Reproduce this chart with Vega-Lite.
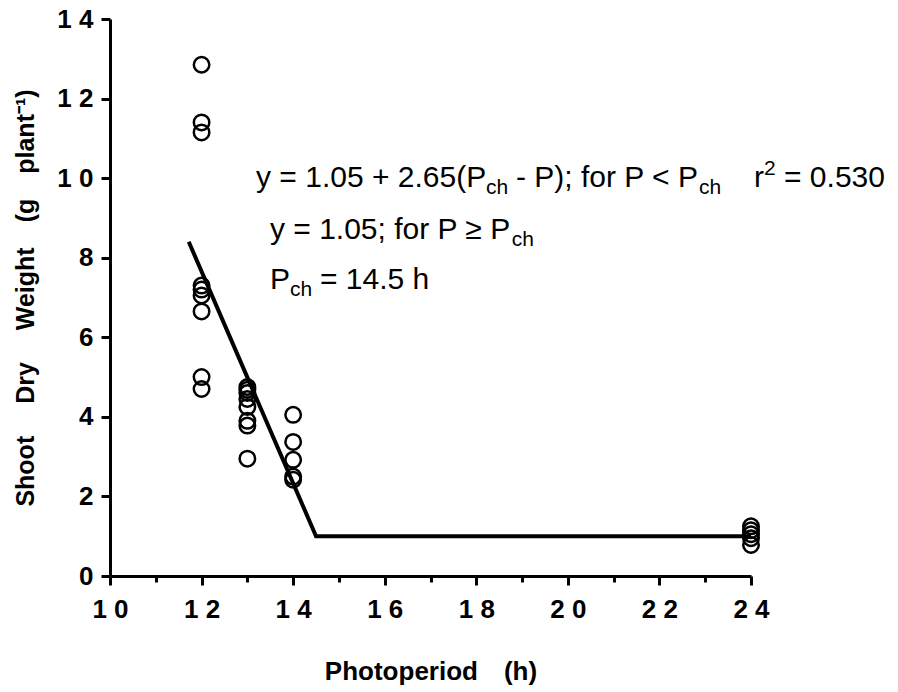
{
  "$schema": "https://vega.github.io/schema/vega-lite/v6.json",
  "autosize": {"type": "none"},
  "width": 641,
  "height": 557,
  "padding": {"left": 110, "top": 19, "right": 147, "bottom": 116},
  "background": "white",
  "config": {"view": {"stroke": null}},
  "datasets": {
    "points": [
      {"photoperiod": 12, "weight": 12.85},
      {"photoperiod": 12, "weight": 11.4},
      {"photoperiod": 12, "weight": 11.15},
      {"photoperiod": 12, "weight": 7.3},
      {"photoperiod": 12, "weight": 7.2},
      {"photoperiod": 12, "weight": 7.05},
      {"photoperiod": 12, "weight": 6.65},
      {"photoperiod": 12, "weight": 5.0},
      {"photoperiod": 12, "weight": 4.7},
      {"photoperiod": 13, "weight": 4.75},
      {"photoperiod": 13, "weight": 4.68},
      {"photoperiod": 13, "weight": 4.6},
      {"photoperiod": 13, "weight": 4.45},
      {"photoperiod": 13, "weight": 4.25},
      {"photoperiod": 13, "weight": 3.9},
      {"photoperiod": 13, "weight": 3.78},
      {"photoperiod": 13, "weight": 2.95},
      {"photoperiod": 14, "weight": 4.05},
      {"photoperiod": 14, "weight": 3.37},
      {"photoperiod": 14, "weight": 2.92},
      {"photoperiod": 14, "weight": 2.5},
      {"photoperiod": 14, "weight": 2.42},
      {"photoperiod": 24, "weight": 1.25},
      {"photoperiod": 24, "weight": 1.15},
      {"photoperiod": 24, "weight": 1.05},
      {"photoperiod": 24, "weight": 0.95},
      {"photoperiod": 24, "weight": 0.78}
    ],
    "fit": [
      {"photoperiod": 11.72, "weight": 8.4},
      {"photoperiod": 14.5, "weight": 1.0},
      {"photoperiod": 24, "weight": 1.0}
    ],
    "notes": [
      {"kind": "main", "x": 13.189, "y": 9.77, "text": "y = 1.05 + 2.65(P"},
      {"kind": "sub", "x": 18.212, "y": 9.77, "text": "ch"},
      {"kind": "main", "x": 18.867, "y": 9.77, "text": "- P); for P < P"},
      {"kind": "sub", "x": 22.864, "y": 9.77, "text": "ch"},
      {"kind": "main", "x": 24.065, "y": 9.77, "text": "r"},
      {"kind": "sup", "x": 24.284, "y": 9.77, "text": "2"},
      {"kind": "main", "x": 24.721, "y": 9.77, "text": "= 0.530"},
      {"kind": "main", "x": 13.494, "y": 8.47, "text": "y = 1.05; for P ≥ P"},
      {"kind": "sub", "x": 18.773, "y": 8.47, "text": "ch"},
      {"kind": "main", "x": 13.494, "y": 7.22, "text": "P"},
      {"kind": "sub", "x": 13.931, "y": 7.22, "text": "ch"},
      {"kind": "main", "x": 14.587, "y": 7.22, "text": "= 14.5 h"}
    ]
  },
  "layer": [
    {
      "data": {"name": "fit"},
      "mark": {"type": "line", "color": "black", "strokeWidth": 4, "clip": false},
      "encoding": {
        "x": {
          "field": "photoperiod", "type": "quantitative",
          "scale": {"domain": [10, 24], "nice": false, "zero": false},
          "axis": {
            "values": [10, 11, 12, 13, 14, 15, 16, 17, 18, 19, 20, 21, 22, 23, 24],
            "labelExpr": "datum.value % 2 === 0 ? substring(datum.label, 0, 1) + '\u00a0' + substring(datum.label, 1) : ''",
            "tickSize": {"condition": {"test": "datum.value % 2 === 0", "value": 9}, "value": 6},
            "tickWidth": 3,
            "tickColor": "black",
            "domainColor": "black",
            "domainWidth": 3,
            "grid": false,
            "labelFont": "Liberation Sans",
            "labelFontWeight": "bold",
            "labelFontSize": 26,
            "labelColor": "black",
            "labelPadding": 11,
            "labelFlush": false,
            "labelOverlap": false,
            "title": "Photoperiod\u2003(h)",
            "titleFont": "Liberation Sans",
            "titleFontWeight": "bold",
            "titleFontSize": 26,
            "titleColor": "black",
            "titlePadding": 36
          }
        },
        "y": {
          "field": "weight", "type": "quantitative",
          "scale": {"domain": [0, 14], "nice": false, "zero": false},
          "axis": {
            "values": [0, 0.25, 0.5, 0.75, 1, 1.25, 1.5, 1.75, 2, 2.25, 2.5, 2.75, 3, 3.25, 3.5, 3.75, 4, 4.25, 4.5, 4.75, 5, 5.25, 5.5, 5.75, 6, 6.25, 6.5, 6.75, 7, 7.25, 7.5, 7.75, 8, 8.25, 8.5, 8.75, 9, 9.25, 9.5, 9.75, 10, 10.25, 10.5, 10.75, 11, 11.25, 11.5, 11.75, 12, 12.25, 12.5, 12.75, 13, 13.25, 13.5, 13.75, 14],
            "labelExpr": "datum.value % 2 === 0 ? (datum.value >= 10 ? substring(datum.label, 0, 1) + '\u00a0' + substring(datum.label, 1) : datum.label) : ''",
            "tickSize": {"condition": {"test": "datum.value % 2 === 0", "value": 9}, "value": 4},
            "tickWidth": 3,
            "tickColor": "black",
            "domainColor": "black",
            "domainWidth": 3,
            "grid": false,
            "labelFont": "Liberation Sans",
            "labelFontWeight": "bold",
            "labelFontSize": 26,
            "labelColor": "black",
            "labelPadding": 8,
            "labelFlush": false,
            "labelOverlap": false,
            "title": "Shoot\u2003\u00a0Dry\u2003\u00a0Weight\u2003(g\u2003plant⁻¹)",
            "titleFont": "Liberation Sans",
            "titleFontWeight": "bold",
            "titleFontSize": 25,
            "titleColor": "black",
            "titlePadding": 18
          }
        }
      }
    },
    {
      "data": {"name": "points"},
      "mark": {"type": "point", "shape": "circle", "filled": false, "stroke": "black", "strokeWidth": 2.5, "size": 240, "opacity": 1, "clip": false},
      "encoding": {
        "x": {"field": "photoperiod", "type": "quantitative"},
        "y": {"field": "weight", "type": "quantitative"}
      }
    },
    {
      "data": {"name": "notes"},
      "transform": [{"filter": "datum.kind === 'main'"}],
      "mark": {"type": "text", "align": "left", "baseline": "alphabetic", "font": "Liberation Sans", "fontSize": 30, "color": "black"},
      "encoding": {
        "x": {"field": "x", "type": "quantitative"},
        "y": {"field": "y", "type": "quantitative"},
        "text": {"field": "text"}
      }
    },
    {
      "data": {"name": "notes"},
      "transform": [{"filter": "datum.kind === 'sub'"}],
      "mark": {"type": "text", "align": "left", "baseline": "alphabetic", "font": "Liberation Sans", "fontSize": 21, "dy": 7, "color": "black"},
      "encoding": {
        "x": {"field": "x", "type": "quantitative"},
        "y": {"field": "y", "type": "quantitative"},
        "text": {"field": "text"}
      }
    },
    {
      "data": {"name": "notes"},
      "transform": [{"filter": "datum.kind === 'sup'"}],
      "mark": {"type": "text", "align": "left", "baseline": "alphabetic", "font": "Liberation Sans", "fontSize": 21, "dy": -12, "color": "black"},
      "encoding": {
        "x": {"field": "x", "type": "quantitative"},
        "y": {"field": "y", "type": "quantitative"},
        "text": {"field": "text"}
      }
    }
  ]
}
